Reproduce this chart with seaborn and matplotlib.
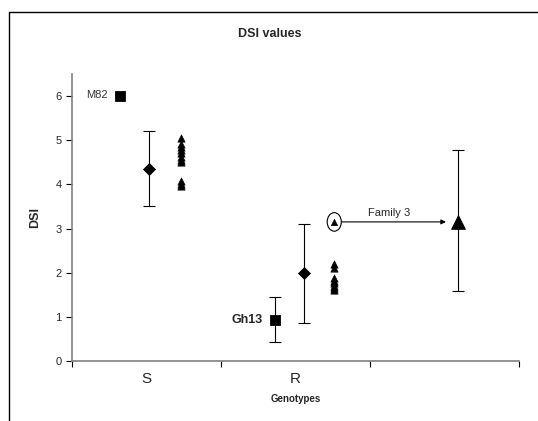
import matplotlib
matplotlib.use("Agg")
import matplotlib.pyplot as plt
import seaborn as sns
import pandas as pd
from matplotlib.patches import Ellipse
from matplotlib.lines import Line2D

# -----------------------------------
# Data
# -----------------------------------
categories = ["S", "R", ""]

# parents
parent_names = ["M82", "Gh13"]
parent_x = [0.32, 1.36]
parent_dsi = [6.0, 0.92]
parent_err_lo = [0.0, 0.49]
parent_err_hi = [0.0, 0.53]

# group means (diamonds)
mean_x = [0.52, 1.56]
mean_dsi = [4.35, 2.0]
mean_err_lo = [0.83, 1.13]
mean_err_hi = [0.87, 1.10]

# individual families (small triangles)
fam_s = [5.05, 4.92, 4.85, 4.78, 4.72, 4.62, 4.55, 4.5, 4.08, 4.02, 3.96]
fam_r = [2.2, 2.1, 1.88, 1.82, 1.76, 1.7, 1.65, 1.6]
fam_x = [0.73, 1.76]

# family 3 highlighted
fam3_x = 1.76
fam3_dsi = 3.15
fam3_big_x = 2.59
fam3_big_dsi = 3.15
fam3_err_lo = 1.56
fam3_err_hi = 1.62

# -----------------------------------
# Figure
# -----------------------------------
sns.set_style("white")
plt.rcParams["font.family"] = ["Liberation Sans", "DejaVu Sans"]

fig = plt.figure(figsize=(5.38, 4.21), dpi=100)
ax = fig.add_axes([72 / 538, 60 / 421, 447 / 538, 287 / 421])

df_par = pd.DataFrame({"x": parent_x, "DSI": parent_dsi})
sns.scatterplot(data=df_par, x="x", y="DSI", marker="s", s=55, color="black",
                edgecolor="black", ax=ax, zorder=4)
ax.errorbar(parent_x[1], parent_dsi[1],
            yerr=[[parent_err_lo[1]], [parent_err_hi[1]]],
            fmt="none", ecolor="black", elinewidth=0.8, capsize=4, capthick=0.8)

df_mean = pd.DataFrame({"x": mean_x, "DSI": mean_dsi})
sns.scatterplot(data=df_mean, x="x", y="DSI", marker="D", s=38, color="black",
                edgecolor="black", ax=ax, zorder=4)
ax.errorbar(mean_x, mean_dsi, yerr=[mean_err_lo, mean_err_hi],
            fmt="none", ecolor="black", elinewidth=0.8, capsize=4, capthick=0.8)

df_fam = pd.DataFrame({
    "x": [fam_x[0]] * len(fam_s) + [fam_x[1]] * len(fam_r),
    "DSI": fam_s + fam_r,
})
sns.scatterplot(data=df_fam, x="x", y="DSI", marker="^", s=28, color="black",
                edgecolor="black", ax=ax, zorder=4)

# circled family 3
sns.scatterplot(x=[fam3_x], y=[fam3_dsi], marker="^", s=22, color="black",
                edgecolor="black", ax=ax, zorder=4)
ax.add_patch(Ellipse((fam3_x, fam3_dsi), 0.095, 0.42, fill=False,
                     edgecolor="black", linewidth=0.8, zorder=3))

# big triangle with error
sns.scatterplot(x=[fam3_big_x], y=[fam3_big_dsi], marker="^", s=95,
                color="black", edgecolor="black", ax=ax, zorder=4)
ax.errorbar(fam3_big_x, fam3_big_dsi, yerr=[[fam3_err_lo], [fam3_err_hi]],
            fmt="none", ecolor="black", elinewidth=0.8, capsize=4, capthick=0.8)

ax.annotate("", xy=(fam3_big_x - 0.08, fam3_dsi), xytext=(fam3_x + 0.05, fam3_dsi),
            arrowprops=dict(arrowstyle="-|>", color="black", lw=0.8,
                            mutation_scale=7, shrinkA=0, shrinkB=0))
ax.text(2.13, fam3_dsi + 0.08, "Family 3", fontsize=8, ha="center", va="bottom")

# labels for parents
ax.text(parent_x[0] - 0.08, parent_dsi[0] + 0.03, "M82", fontsize=8,
        ha="right", va="center", color="#333333")
ax.text(parent_x[1] - 0.08, parent_dsi[1], "Gh13", fontsize=9,
        ha="right", va="center", fontweight="bold")

# axes
ax.set_xlim(0, 3)
ax.set_ylim(0, 6.5)
ax.set_xticks([0, 1, 2, 3])
ax.set_xticklabels([])
ax.set_xticks([0.5, 1.5, 2.5], minor=True)
ax.set_xticklabels(categories, minor=True, fontsize=11)
ax.tick_params(axis="x", which="major", direction="out", length=4, width=0.8,
               color="black", bottom=True)
ax.tick_params(axis="x", which="minor", length=0, pad=8)
ax.set_yticks(range(7))
ax.tick_params(axis="y", direction="out", length=4, width=0.8, color="black",
               labelsize=8, left=True)
sns.despine(ax=ax)
for side in ["left", "bottom"]:
    ax.spines[side].set_color("#808080")
    ax.spines[side].set_linewidth(1.2)

ax.set_xlabel("Genotypes", fontsize=7, fontweight="bold", labelpad=6)
ax.set_ylabel("DSI", fontsize=9, fontweight="bold", labelpad=10)
fig.text(270 / 538, 1 - 34 / 421, "DSI values", fontsize=9, fontweight="bold",
         ha="center", va="center")

# outer frame (left and top edges visible)
fig.add_artist(Line2D([9 / 538, 9 / 538], [0, 1 - 12 / 421], transform=fig.transFigure,
                      color="black", lw=1))
fig.add_artist(Line2D([9 / 538, 1], [1 - 12 / 421, 1 - 12 / 421], transform=fig.transFigure,
                      color="black", lw=1))

fig.savefig("out.png", dpi=100)
